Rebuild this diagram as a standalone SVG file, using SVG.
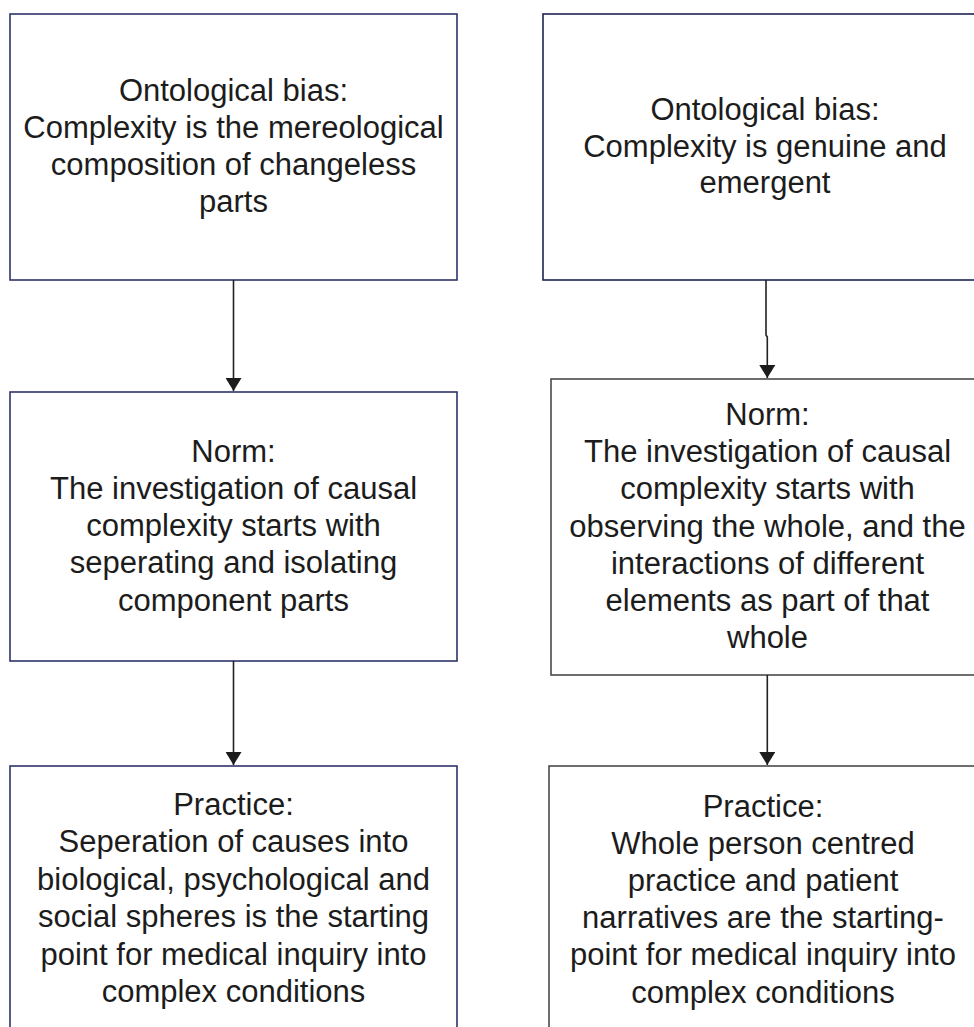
<svg xmlns="http://www.w3.org/2000/svg" width="974" height="1027" viewBox="0 0 974 1027">
  <style>
    .box { fill: #ffffff; stroke-width: 1.6; }
    .navy { stroke: #2e3468; }
    .dark { stroke: #1e2454; }
    .grey { stroke: #4a4a4a; }
    .lbl { font-family: "Liberation Sans", Arial, Helvetica, sans-serif; font-size: 31px; fill: #1c1c1c; text-anchor: middle; }
    .edge { fill: none; stroke: #222222; stroke-width: 1.6; }
  </style>
  <defs>
    <marker id="arrow" markerWidth="14" markerHeight="16" refX="13" refY="8" orient="auto" markerUnits="userSpaceOnUse">
      <path d="M0,0 L13,8 L0,16 Z" fill="#1c1c1c"/>
    </marker>
  </defs>
  <rect width="974" height="1027" fill="#ffffff"/>

  <!-- left column -->
  <g id="left-bias">
    <rect class="box navy" x="10" y="14" width="447" height="266"/>
    <text class="lbl" x="233.5" y="101">Ontological bias:</text>
    <text class="lbl" x="233.5" y="138">Complexity is the mereological</text>
    <text class="lbl" x="233.5" y="175">composition of changeless</text>
    <text class="lbl" x="233.5" y="212">parts</text>
  </g>
  <g id="left-norm">
    <rect class="box navy" x="10" y="392" width="447" height="269"/>
    <text class="lbl" x="233.5" y="462">Norm:</text>
    <text class="lbl" x="233.5" y="499">The investigation of causal</text>
    <text class="lbl" x="233.5" y="536">complexity starts with</text>
    <text class="lbl" x="233.5" y="573">seperating and isolating</text>
    <text class="lbl" x="233.5" y="611">component parts</text>
  </g>
  <g id="left-practice">
    <rect class="box navy" x="10" y="766" width="447" height="280"/>
    <text class="lbl" x="233.5" y="815">Practice:</text>
    <text class="lbl" x="233.5" y="852">Seperation of causes into</text>
    <text class="lbl" x="233.5" y="890">biological, psychological and</text>
    <text class="lbl" x="233.5" y="927">social spheres is the starting</text>
    <text class="lbl" x="233.5" y="965">point for medical inquiry into</text>
    <text class="lbl" x="233.5" y="1002">complex conditions</text>
  </g>

  <!-- right column -->
  <g id="right-bias">
    <rect class="box dark" x="543" y="14" width="444" height="266"/>
    <text class="lbl" x="765" y="120">Ontological bias:</text>
    <text class="lbl" x="765" y="157">Complexity is genuine and</text>
    <text class="lbl" x="765" y="193">emergent</text>
  </g>
  <g id="right-norm">
    <rect class="box grey" x="551" y="379" width="433" height="296"/>
    <text class="lbl" x="767.5" y="425">Norm:</text>
    <text class="lbl" x="767.5" y="462">The investigation of causal</text>
    <text class="lbl" x="767.5" y="499">complexity starts with</text>
    <text class="lbl" x="767.5" y="537">observing the whole, and the</text>
    <text class="lbl" x="767.5" y="574">interactions of different</text>
    <text class="lbl" x="767.5" y="611">elements as part of that</text>
    <text class="lbl" x="767.5" y="648">whole</text>
  </g>
  <g id="right-practice">
    <rect class="box grey" x="549" y="766" width="430" height="280"/>
    <text class="lbl" x="763" y="817">Practice:</text>
    <text class="lbl" x="763" y="854">Whole person centred</text>
    <text class="lbl" x="763" y="891">practice and patient</text>
    <text class="lbl" x="763" y="928">narratives are the starting-</text>
    <text class="lbl" x="763" y="965">point for medical inquiry into</text>
    <text class="lbl" x="763" y="1003">complex conditions</text>
  </g>

  <!-- connectors -->
  <g id="connectors">
    <path class="edge" d="M233.5,280 L233.5,391" marker-end="url(#arrow)"/>
    <path class="edge" d="M233.5,661 L233.5,765" marker-end="url(#arrow)"/>
    <path class="edge" stroke="#333333" d="M766,280 L766,335 L767.3,337 L767.3,378" marker-end="url(#arrow)"/>
    <path class="edge" d="M767.3,675 L767.3,765" marker-end="url(#arrow)"/>
  </g>
</svg>
